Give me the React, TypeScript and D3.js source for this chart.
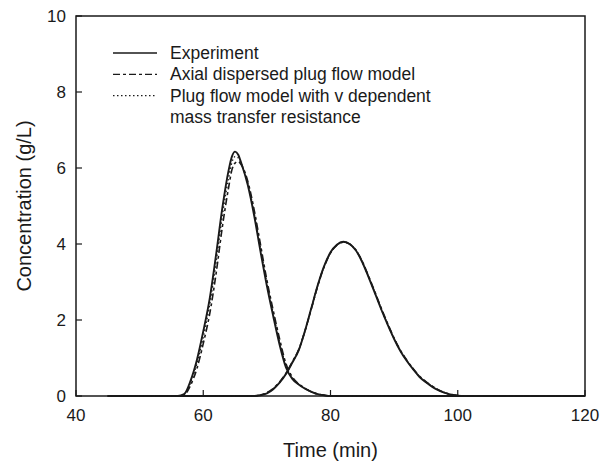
import React from "react";
import * as d3 from "d3";

const W = 611, H = 465;
const M = { left: 76, right: 585, top: 16, bottom: 396 };

const xTicks = [40, 60, 80, 100, 120];
const yTicks = [0, 2, 4, 6, 8, 10];

// Peak 1 (first component)
const p1Time = [45, 56, 57, 58, 59, 60, 61, 62, 63, 64, 64.5, 65, 65.5, 66, 67, 68, 69, 70, 71, 72, 73, 74, 75, 76, 77, 78, 79, 80, 85, 120];
const p1Exp = [0, 0, 0.05, 0.4, 0.95, 1.7, 2.55, 3.7, 4.95, 5.95, 6.3, 6.43, 6.35, 6.12, 5.55, 4.75, 3.8, 2.9, 2.1, 1.35, 0.75, 0.45, 0.3, 0.19, 0.11, 0.05, 0.02, 0, 0, 0];
const p1Axial = [0, 0, 0.03, 0.28, 0.72, 1.38, 2.15, 3.2, 4.45, 5.5, 5.95, 6.13, 6.17, 6.08, 5.65, 4.9, 3.98, 3.05, 2.25, 1.5, 0.85, 0.5, 0.32, 0.2, 0.11, 0.05, 0.02, 0, 0, 0];
const p1Plug = [0, 0, 0.04, 0.35, 0.85, 1.55, 2.4, 3.5, 4.75, 5.75, 6.15, 6.3, 6.27, 6.1, 5.6, 4.82, 3.88, 2.97, 2.17, 1.42, 0.8, 0.47, 0.31, 0.2, 0.11, 0.05, 0.02, 0, 0, 0];

// Peak 2 (second component)
const p2Time = [45, 68, 69, 70, 71, 72, 73, 74, 75, 76, 77, 78, 79, 80, 81, 82, 83, 84, 85, 86, 87, 88, 89, 90, 91, 92, 93, 94, 95, 96, 97, 98, 99, 100, 101, 120];
const p2Exp = [0, 0, 0.02, 0.07, 0.18, 0.35, 0.58, 0.88, 1.2, 1.72, 2.32, 2.92, 3.42, 3.78, 3.98, 4.06, 4.0, 3.83, 3.52, 3.12, 2.7, 2.27, 1.87, 1.5, 1.18, 0.92, 0.7, 0.5, 0.36, 0.24, 0.15, 0.08, 0.035, 0.01, 0, 0];
const p2Axial = [0, 0, 0.03, 0.09, 0.2, 0.37, 0.6, 0.9, 1.22, 1.72, 2.3, 2.9, 3.4, 3.76, 3.97, 4.05, 4.0, 3.84, 3.54, 3.15, 2.73, 2.3, 1.9, 1.52, 1.2, 0.94, 0.72, 0.52, 0.38, 0.26, 0.16, 0.09, 0.04, 0.012, 0, 0];
const p2Plug = [0, 0, 0.025, 0.08, 0.19, 0.36, 0.59, 0.89, 1.21, 1.72, 2.31, 2.91, 3.41, 3.77, 3.97, 4.05, 4.0, 3.83, 3.53, 3.13, 2.71, 2.28, 1.88, 1.51, 1.19, 0.93, 0.71, 0.51, 0.37, 0.25, 0.15, 0.085, 0.037, 0.011, 0, 0];

const legendLabels = ["Experiment", "Axial dispersed plug flow model", "Plug flow model with v dependent", "mass transfer resistance"];

const ink = "#1a1a1a";
const font = "Liberation Sans, Arial, sans-serif";

export default function App() {
  const x = d3.scaleLinear().domain([40, 120]).range([M.left, M.right]);
  const y = d3.scaleLinear().domain([0, 10]).range([M.bottom, M.top]);
  const line = (t: number[], v: number[]) =>
    d3.line<number>().x((_, i) => x(t[i])).y((d) => y(d)).curve(d3.curveMonotoneX)(v) || "";

  const styles = [
    { dash: undefined as string | undefined, w: 1.9 },
    { dash: "7,3,3,3", w: 1.6 },
    { dash: "1.5,2.5", w: 1.4 },
  ];

  return (
    <svg width={W} height={H} style={{ position: "absolute", left: 0, top: 0, background: "#fff" }}>
      <rect x={0} y={0} width={W} height={H} fill="#fff" />
      <rect x={M.left} y={M.top} width={M.right - M.left} height={M.bottom - M.top} fill="none" stroke={ink} strokeWidth={1.5} />
      {xTicks.map((t) => (
        <g key={"x" + t}>
          <line x1={x(t)} x2={x(t)} y1={M.bottom} y2={M.bottom - 6} stroke={ink} strokeWidth={1.2} />
          <text x={x(t)} y={M.bottom + 25} textAnchor="middle" fontFamily={font} fontSize={17} fill={ink}>{t}</text>
        </g>
      ))}
      {yTicks.map((t) => (
        <g key={"y" + t}>
          <line x1={M.left} x2={M.left + 6} y1={y(t)} y2={y(t)} stroke={ink} strokeWidth={1.2} />
          <text x={M.left - 10} y={y(t) + 6} textAnchor="end" fontFamily={font} fontSize={17} fill={ink}>{t}</text>
        </g>
      ))}
      <text x={(M.left + M.right) / 2} y={457} textAnchor="middle" fontFamily={font} fontSize={20} fill={ink}>Time (min)</text>
      <text transform={`translate(31,${(M.top + M.bottom) / 2}) rotate(-90)`} textAnchor="middle" fontFamily={font} fontSize={20} fill={ink}>Concentration (g/L)</text>

      {[p1Exp, p1Axial, p1Plug].map((v, i) => (
        <path key={"p1" + i} d={line(p1Time, v)} fill="none" stroke={ink} strokeWidth={styles[i].w} strokeDasharray={styles[i].dash} />
      ))}
      {[p2Exp, p2Axial, p2Plug].map((v, i) => (
        <path key={"p2" + i} d={line(p2Time, v)} fill="none" stroke={ink} strokeWidth={styles[i].w} strokeDasharray={styles[i].dash} />
      ))}

      {legendLabels.map((lab, i) => {
        const yy = 53 + i * 21.3;
        return (
          <g key={lab}>
            {i < 3 && <line x1={113} x2={157} y1={yy} y2={yy} stroke={ink} strokeWidth={1.3} strokeDasharray={styles[i].dash} />}
            <text x={170} y={yy + 6} fontFamily={font} fontSize={17.5} fill={ink}>{lab}</text>
          </g>
        );
      })}
    </svg>
  );
}
